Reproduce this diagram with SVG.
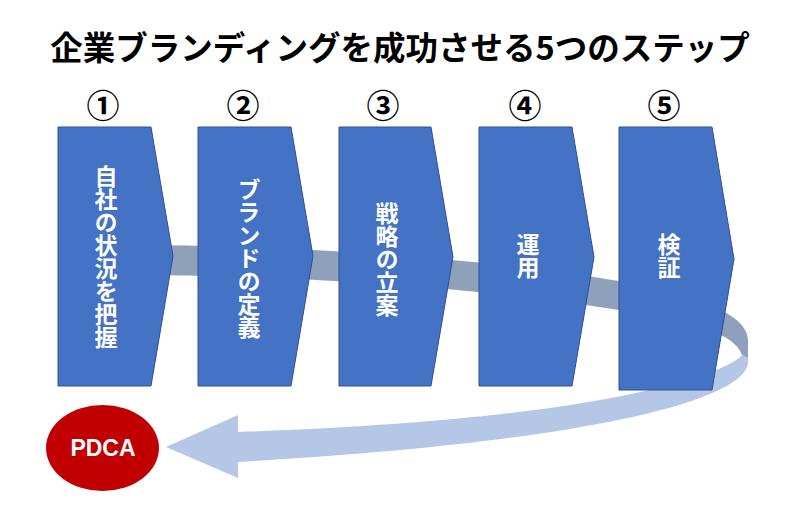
<svg xmlns="http://www.w3.org/2000/svg" width="791" height="513" viewBox="0 0 791 513">
<style>
.title{font-family:"Noto Sans CJK JP","Noto Sans CJK SC",sans-serif;font-weight:bold;font-size:32.5px;fill:#000;text-anchor:middle}
.num{font-family:"Noto Sans CJK JP",sans-serif;font-weight:bold;font-size:33px;fill:#000;text-anchor:middle}
.chev{fill:#4472C4;stroke:#2F528F;stroke-width:1}
.lbl{font-family:"Noto Sans CJK JP",sans-serif;font-weight:bold;font-size:23px;fill:#fff;text-anchor:middle;writing-mode:vertical-rl}
.pdca{font-family:"Liberation Sans",Arial,sans-serif;font-weight:bold;font-size:23px;fill:#fff;text-anchor:middle}
</style>
<rect width="791" height="513" fill="#fff"/>
<text class="title" x="400" y="60">企業ブランディングを成功させる5つのステップ</text>
<g id="connectors">
<path d="M120,245 C300,245 480,258 619,281 C700,296 748,315 748,340 L748,358 L742,355 C735,335 700,322 619,310 C480,288 300,275 120,275 Z" fill="#8FA0BB"/>
<path d="M742,355 L748,358 L748,362 C748,395 620,440 238,462 L238,478 L166,447 L238,415 L238,432 C600,420 725,375 742,355 Z" fill="#B4C7E7"/>
</g>
<g id="step1">
<text class="num" x="103" y="118">①</text>
<path class="chev" d="M58,127 L151,127 L173,256 L151,386 L58,386 Z"/>
<text class="lbl" x="106" y="257">自社の状況を把握</text>
</g>
<g id="step2">
<text class="num" x="243" y="118">②</text>
<path class="chev" d="M198,127 L291,127 L313,256 L291,386 L198,386 Z"/>
<text class="lbl" x="249" y="258">ブランドの定義</text>
</g>
<g id="step3">
<text class="num" x="383" y="118">③</text>
<path class="chev" d="M339,127 L431,127 L453,257 L431,386 L339,386 Z"/>
<text class="lbl" x="387" y="259">戦略の立案</text>
</g>
<g id="step4">
<text class="num" x="525" y="118">④</text>
<path class="chev" d="M479,127 L572,127 L594,257 L572,386 L479,386 Z"/>
<text class="lbl" x="528" y="256">運用</text>
</g>
<g id="step5">
<text class="num" x="664" y="118">⑤</text>
<path class="chev" d="M619,127 L712,127 L734,259 L712,390 L619,390 Z"/>
<text class="lbl" x="669" y="256">検証</text>
</g>
<g id="pdca">
<ellipse cx="102.5" cy="448" rx="56.5" ry="43" fill="#C00000"/>
<text class="pdca" x="103" y="456">PDCA</text>
</g>
</svg>
